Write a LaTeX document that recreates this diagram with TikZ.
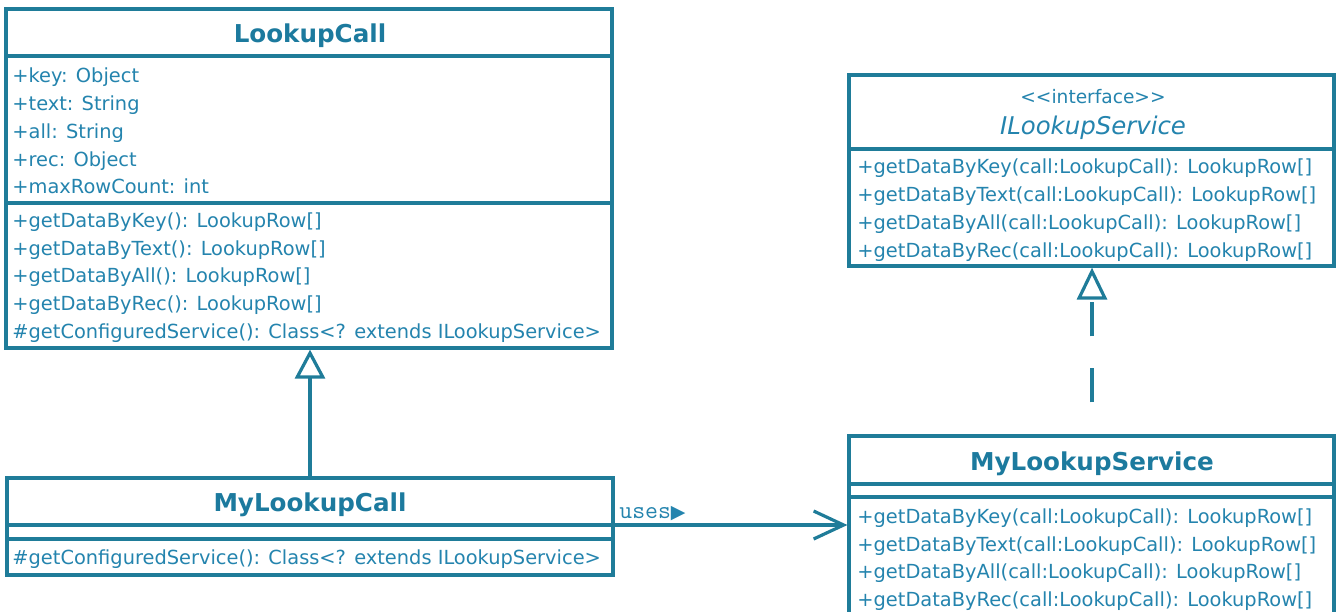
\documentclass[tikz,border=0pt]{standalone}
\usepackage{fontspec}
\setmainfont{DejaVu Sans}
\newfontfamily\symfont{DejaVu Sans}
\usetikzlibrary{arrows.meta,fit}
\definecolor{umlline}{RGB}{31,124,153}
\definecolor{umltext}{RGB}{36,132,174}
\definecolor{umltitle}{RGB}{28,122,158}
\tikzset{
  classbox/.style={draw=umlline, line width=1.6pt, inner sep=0pt, fill=white},
  sepline/.style={draw=umlline, line width=1.6pt},
  member/.style={anchor=west, inner sep=0pt, text=umltext, font=\fontsize{9.7pt}{11pt}\selectfont, text height=7pt, text depth=0pt},
  ctitle/.style={anchor=center, inner sep=0pt, text=umltitle, font=\fontsize{12.3pt}{14pt}\selectfont\bfseries, text height=9pt, text depth=0pt},
  ititle/.style={anchor=center, inner sep=0pt, text=umltext, font=\fontsize{12.2pt}{14pt}\selectfont\itshape, text height=9pt, text depth=0pt},
  stereo/.style={anchor=center, inner sep=0pt, text=umltext, font=\fontsize{9.3pt}{11pt}\selectfont, text height=7pt, text depth=0pt},
  conn/.style={draw=umlline, line width=1.6pt},
  genarrow/.style={conn, -{Triangle[open, length=14.5pt, width=15pt, line width=1.6pt]}},
  realarrow/.style={conn, dash pattern=on 17pt off 16pt, dash phase=17pt, -{Triangle[open, length=16pt, width=15pt, line width=1.6pt, sep=0pt]}},
  assocarrow/.style={conn, -{Straight Barb[length=15pt, width=14pt, line width=1.6pt]}},
}
\begin{document}
\begin{tikzpicture}[x=0.5pt,y=-0.5pt]
\useasboundingbox (0,0) rectangle (1338,611);
% ---------- LookupCall ----------
\node[classbox, fit={(6,9)(612,348)}] (LC) {};
\draw[sepline] (LC.west |- 0,56) -- (LC.east |- 0,56);
\draw[sepline] (LC.west |- 0,203) -- (LC.east |- 0,203);
\node[ctitle] (LCt) at (310,33) {LookupCall};
\node[member] (LCa1) at (12,75) {+key: Object};
\node[member] (LCa2) at (12,103) {+text: String};
\node[member] (LCa3) at (12,131) {+all: String};
\node[member] (LCa4) at (12,159) {+rec: Object};
\node[member] (LCa5) at (12,186) {+maxRowCount: int};
\node[member] (LCm1) at (12,220) {+getDataByKey(): LookupRow[]};
\node[member] (LCm2) at (12,248) {+getDataByText(): LookupRow[]};
\node[member] (LCm3) at (12,275) {+getDataByAll(): LookupRow[]};
\node[member] (LCm4) at (12,303) {+getDataByRec(): LookupRow[]};
\node[member] (LCm5) at (12,331) {\#getConfiguredService(): Class<? extends ILookupService>};
% ---------- MyLookupCall ----------
\node[classbox, fit={(7,478)(613,575)}] (MLC) {};
\draw[sepline] (MLC.west |- 0,525) -- (MLC.east |- 0,525);
\draw[sepline] (MLC.west |- 0,539) -- (MLC.east |- 0,539);
\node[ctitle] (MLCt) at (310,502) {MyLookupCall};
\node[member] (MLCm1) at (12,557) {\#getConfiguredService(): Class<? extends ILookupService>};
% ---------- ILookupService ----------
\node[classbox, fit={(849,75)(1334,266)}] (ILS) {};
\draw[sepline] (ILS.west |- 0,149) -- (ILS.east |- 0,149);
\node[stereo] (ILSs) at (1093,96) {<{}<interface>{}>};
\node[ititle] (ILSt) at (1093,125) {ILookupService};
\node[member] (ILSm1) at (857,166) {+getDataByKey(call:LookupCall): LookupRow[]};
\node[member] (ILSm2) at (857,194) {+getDataByText(call:LookupCall): LookupRow[]};
\node[member] (ILSm3) at (857,222) {+getDataByAll(call:LookupCall): LookupRow[]};
\node[member] (ILSm4) at (857,250) {+getDataByRec(call:LookupCall): LookupRow[]};
% ---------- MyLookupService ----------
\node[classbox, fit={(849,436)(1334,640)}] (MLS) {};
\draw[sepline] (MLS.west |- 0,484) -- (MLS.east |- 0,484);
\draw[sepline] (MLS.west |- 0,497) -- (MLS.east |- 0,497);
\node[ctitle] (MLSt) at (1092,461) {MyLookupService};
\node[member] (MLSm1) at (857,516) {+getDataByKey(call:LookupCall): LookupRow[]};
\node[member] (MLSm2) at (857,544) {+getDataByText(call:LookupCall): LookupRow[]};
\node[member] (MLSm3) at (857,571) {+getDataByAll(call:LookupCall): LookupRow[]};
\node[member] (MLSm4) at (857,599) {+getDataByRec(call:LookupCall): LookupRow[]};
% ---------- connectors ----------
\coordinate (genx) at (310,0);
\coordinate (realx) at (1092,0);
\coordinate (assocy) at (0,525);
\draw[genarrow] (MLC.north -| genx) -- (LC.south -| genx);
\draw[realarrow] (MLS.north -| realx) -- (ILS.south -| realx);
\draw[assocarrow] (MLC.east |- assocy) -- (MLS.west |- assocy);
\node[anchor=base west, inner sep=0pt, text=umltext] (uses) at (619,518)
  {{\ttfamily\fontsize{12.5pt}{14pt}\selectfont uses}{\symfont\fontsize{9.5pt}{10pt}\selectfont ▶}};
\end{tikzpicture}
\end{document}
